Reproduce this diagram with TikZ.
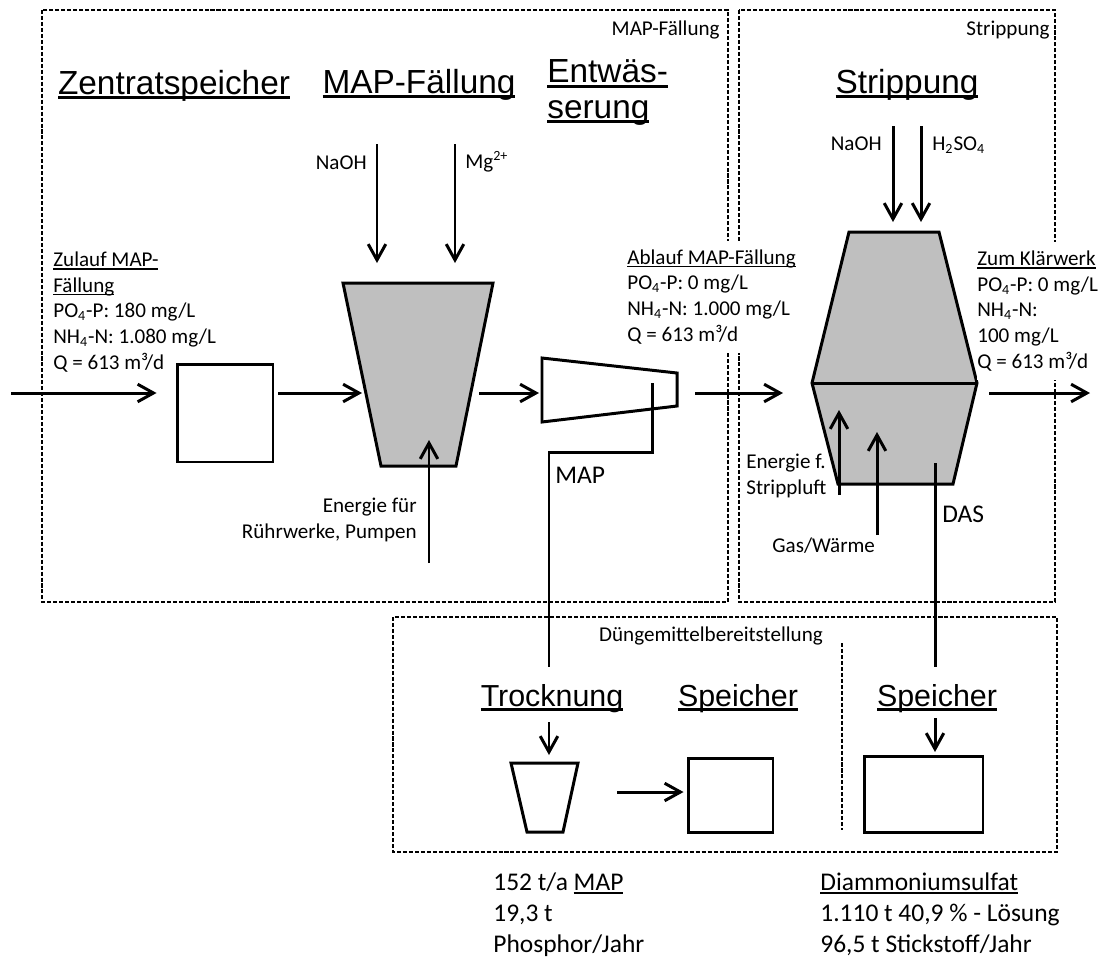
\documentclass[tikz,border=0pt]{standalone}
\usepackage{fontspec}
\setmainfont{Carlito}
\newfontfamily\hdfont{Liberation Sans}
\usepackage{tikz}
\usetikzlibrary{arrows.meta,positioning,calc}
\newsavebox{\ulbox}
\newcommand{\uln}[1]{\sbox{\ulbox}{#1}\rlap{\rule[-0.15em]{\wd\ulbox}{0.08em}}\usebox{\ulbox}}

\begin{document}
\begin{tikzpicture}[x=0.02cm, y=-0.02cm, >={Straight Barb[length=9pt,width=10pt]},
  flow/.style={line width=1.7pt, ->},
  pipe/.style={line width=1.7pt},
  vessel/.style={draw, line width=1.7pt},
  grp/.style={line width=1.1pt, dash pattern=on 2.3pt off 1.1pt},
  tank/.style={draw, line width=1.7pt, inner sep=0pt},
  hd/.style={font=\hdfont\fontsize{19}{20}\selectfont, inner sep=0pt, anchor=base, align=left},
  hds/.style={font=\hdfont\fontsize{17.3}{20}\selectfont, inner sep=0pt, anchor=base},
  lbl/.style={font=\fontsize{12}{14.6}\selectfont, inner sep=0pt, align=left},
  big/.style={font=\fontsize{14.5}{17.6}\selectfont, inner sep=0pt, align=left}]
  \useasboundingbox (0,0) rectangle (1109,961);

  % Bereiche
  \draw[grp] (42,10) rectangle (728,602);
  \draw[grp] (739,10) rectangle (1055,602);
  \draw[grp] (393,617) rectangle (1057,852);
  \draw[grp] (842,643) -- (842,830);
  \node[lbl, anchor=base east](tmap) at (720,35){MAP-Fällung};
  \node[lbl, anchor=base east](tstr) at (1050,35){Strippung};
  \node[lbl, anchor=base](tdue) at (711,641){Düngemittelbereitstellung};

  % Ueberschriften (mehrzeilig: base = letzte Zeile)
  \node[hd](hzsp) at (174,94){\uln{Zentratspeicher}};
  \node[hd](hmap) at (419,93){\uln{MAP-Fällung}};
  \node[hd, anchor=base west](hent) at (547,118){\uln{Entwäs-}\\\uln{serung}};
  \node[hd](hstr) at (907,93){\uln{Strippung}};
  \node[hds](htro) at (552,706){\uln{Trocknung}};
  \node[hds](hsp1) at (738,706){\uln{Speicher}};
  \node[hds](hsp2) at (937,706){\uln{Speicher}};

  % Apparate
  \node[tank, minimum width=1.92cm, minimum height=1.96cm](zsp) at (225,413){};
  \draw[vessel, fill=gray!50] (343,283) -- (493,283) -- (456,466) -- (381,466) -- cycle;
  \draw[vessel, fill=white] (542,358) -- (677,373) -- (677,406) -- (542,422) -- cycle;
  \draw[vessel, fill=gray!50] (849,232) -- (939,232) -- (977,383) -- (953,484) -- (838,484) -- (812,383) -- cycle;
  \draw[vessel] (812,383) -- (977,383);
  \draw[vessel] (511,763) -- (578,763) -- (563,832) -- (527,832) -- cycle;
  \node[tank, minimum width=1.70cm, minimum height=1.48cm](sp1) at (730.5,795){};
  \node[tank, minimum width=2.38cm, minimum height=1.52cm](sp2) at (923.5,794){};

  % Texte
  \node[lbl, anchor=base west](zul) at (53,369){\uln{Zulauf MAP-}\\\uln{Fällung}\\PO\textsubscript{4}-P: 180 mg/L\\NH\textsubscript{4}-N: 1.080 mg/L\\Q = 613 m³/d};
  \node[lbl, anchor=base west, fill=white, inner ysep=5pt](abl) at (627,341){\uln{Ablauf MAP-Fällung}\\PO\textsubscript{4}-P: 0 mg/L\\NH\textsubscript{4}-N: 1.000 mg/L\\Q = 613 m³/d};
  \node[lbl, anchor=base west, fill=white, inner ysep=5pt](kla) at (977,368){\uln{Zum Klärwerk}\\PO\textsubscript{4}-P: 0 mg/L\\NH\textsubscript{4}-N:\\100 mg/L\\Q = 613 m³/d};
  \node[lbl, anchor=base east](naoh1) at (367,169){NaOH};
  \node[lbl, anchor=base west](mg) at (465,168){Mg\textsuperscript{2+}};
  \node[lbl, anchor=base east](naoh2) at (882,150){NaOH};
  \node[lbl, anchor=base west](hso) at (932,150){H\textsubscript{2}SO\textsubscript{4}};
  \node[lbl, anchor=base east, align=right](enf) at (417,538){Energie für\\Rührwerke, Pumpen};
  \node[lbl, anchor=base west](ens) at (746,494){Energie f.\\Strippluft};
  \node[lbl, anchor=base west](gas) at (772,552){Gas/Wärme};
  \node[big, anchor=base west](map) at (555,483){MAP};
  \node[big, anchor=base west](das) at (942,522){DAS};
  \node[big, anchor=base west](prod1) at (493,952){152 t/a \uln{MAP}\\19,3 t\\Phosphor/Jahr};
  \node[big, anchor=base west](prod2) at (820,952){\uln{Diammoniumsulfat}\\1.110 t 40,9 \% - Lösung\\96,5 t Stickstoff/Jahr};

  % Anschluesse
  \coordinate (in) at (11,393);
  \coordinate (fin) at (362,393);  \coordinate (fout) at (479,393);
  \coordinate (ein) at (539,393);  \coordinate (eout) at (695,393);
  \coordinate (sin) at (783,393);  \coordinate (sout) at (989,393);
  \coordinate (out) at (1090,393);
  \coordinate (na1) at (377,144);  \coordinate (na1e) at (377,263);
  \coordinate (mg1) at (455,144);  \coordinate (mg1e) at (455,263);
  \coordinate (ru1) at (429,563);  \coordinate (ru1e) at (429,440);
  \coordinate (na2) at (893,126);  \coordinate (na2e) at (893,222);
  \coordinate (hs2) at (921,126);  \coordinate (hs2e) at (921,222);
  \coordinate (lu2) at (839,495);  \coordinate (lu2e) at (839,410);
  \coordinate (gw2) at (877,535);  \coordinate (gw2e) at (877,432);
  \coordinate (tr1) at (549,722);  \coordinate (tr1e) at (549,755);
  \coordinate (sp1a) at (617,792);
  \coordinate (sp2a) at (935,718); \coordinate (sp2e) at (935,752);

  \draw[flow, shorten >=0.38cm] (in) -- (in -| zsp.west);
  \draw[flow, shorten <=0.08cm] (in -| zsp.east) -- (fin);
  \foreach \a/\b in {fout/ein,eout/sin,sout/out,na1/na1e,mg1/mg1e,ru1/ru1e,na2/na2e,hs2/hs2e,lu2/lu2e,gw2/gw2e,tr1/tr1e,sp2a/sp2e}{\draw[flow](\a)--(\b);}
  \draw[flow, shorten >=0.06cm] (sp1a) -- (sp1a -| sp1.west);

  % MAP und DAS
  \draw[pipe] (652,383) coordinate (m0) -- (652,452) -- (549,452) -- (549,667) coordinate (m1);
  \draw[pipe] (935,463) coordinate (d0) -- (935,667) coordinate (d1);
\end{tikzpicture}
\end{document}
